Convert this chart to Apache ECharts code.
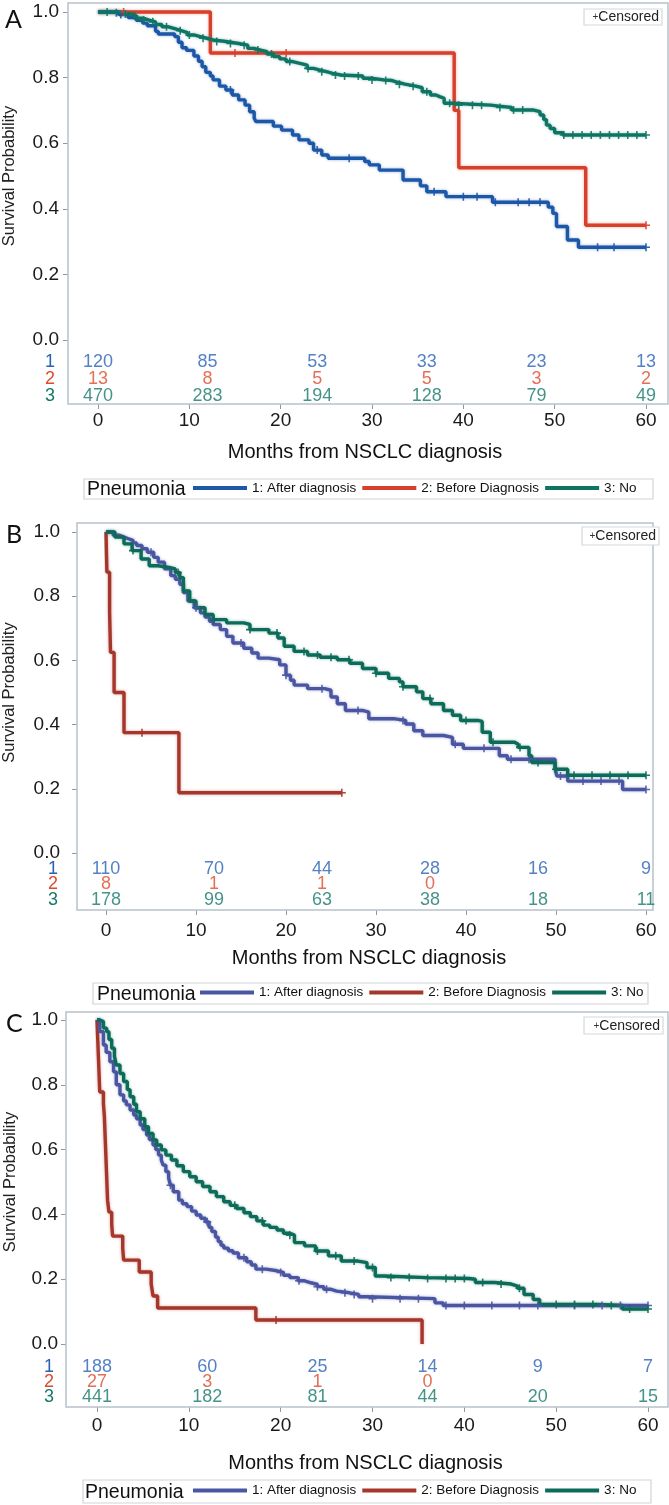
<!DOCTYPE html>
<html><head><meta charset="utf-8">
<script src="https://cdn.jsdelivr.net/npm/echarts@6/dist/echarts.min.js"></script>
<style>html,body{margin:0;padding:0;background:#fff}#c{width:669px;height:1505px}</style>
</head><body><div id="c"></div><script>
// ---------- DATA ----------
const xTicks = [0, 10, 20, 30, 40, 50, 60];
const yTicks = [0, 0.2, 0.4, 0.6, 0.8, 1.0];
const riskTimes = [0, 12, 24, 36, 48, 60];
const groupNames = ['1: After diagnosis', '2: Before Diagnosis', '3: No'];
const riskRowLabels = ['1', '2', '3'];
const panelLetters = ['A', 'B', 'C'];

// Panel A – [month, survival]
const A_after = [[0,1],[2.3,0.992],[3.3,0.983],[4.2,0.975],[4.9,0.966],[5.4,0.958],[6.3,0.941],[6.6,0.933],[8.4,0.925],[8.8,0.908],[9.2,0.891],[9.7,0.883],[10.5,0.866],[11.0,0.85],[11.4,0.833],[11.8,0.816],[12.3,0.805],[12.6,0.793],[13.3,0.774],[14.0,0.762],[14.7,0.747],[15.4,0.732],[16.1,0.716],[16.6,0.696],[17.1,0.676],[17.3,0.666],[19.2,0.652],[20.1,0.640],[21.3,0.625],[22.0,0.61],[23.1,0.60],[23.6,0.579],[24.5,0.564],[25.2,0.554],[29.2,0.544],[29.7,0.534],[30.8,0.518],[33.4,0.488],[35.3,0.47],[36.0,0.452],[38.1,0.437],[43.2,0.42],[49.3,0.405],[49.8,0.386],[50.2,0.346],[51.4,0.305],[52.6,0.283],[60,0.283]];
const A_before = [[0,1],[12.3,0.875],[39.0,0.70],[39.5,0.525],[53.4,0.35],[60,0.35]];
const A_no = [[0,1],[1.4,0.998],[2.8,0.994],[3.5,0.988],[4.2,0.981],[5.0,0.975],[5.6,0.970],[6.3,0.962],[7.0,0.955],[7.7,0.949],[8.4,0.943],[9.1,0.937],[9.8,0.930],[10.5,0.925],[11.2,0.920],[11.9,0.915],[12.6,0.910],[14.0,0.904],[15.4,0.899],[16.4,0.889],[17.1,0.884],[17.8,0.879],[18.5,0.872],[19.2,0.864],[19.9,0.857],[20.6,0.849],[21.3,0.844],[22.0,0.838],[22.9,0.828],[23.6,0.823],[24.3,0.818],[25.0,0.813],[25.7,0.808],[26.6,0.805],[29.0,0.798],[29.9,0.793],[31.3,0.791],[32.2,0.785],[32.9,0.780],[33.6,0.774],[34.8,0.769],[35.5,0.757],[36.4,0.747],[37.0,0.742],[37.4,0.737],[37.9,0.722],[38.8,0.716],[43.0,0.713],[43.9,0.709],[45.3,0.701],[47.7,0.696],[48.4,0.686],[48.8,0.672],[49.1,0.655],[49.5,0.645],[50.0,0.632],[50.9,0.625],[60,0.625]];
const A_after_cens = [2.5, 14.5, 24, 27.5, 36.8, 40, 41.5, 43.5, 46, 47.2, 48.4, 54.7, 56.5, 60];
const A_before_cens = [2.8, 15.0, 20.6, 60];
const A_no_cens = [1, 2, 3, 4, 5, 6, 7.5, 9, 10, 11.5, 13, 14.5, 16, 17.5, 19, 21, 23, 24.5, 26, 27, 28.5, 30, 31.5, 33, 34.5, 36, 38.5, 39.5, 41, 42, 44, 45.5, 46.5, 51, 52, 53, 54, 55, 56, 57, 58, 59, 60];
const A_risk_after = [120, 85, 53, 33, 23, 13];
const A_risk_before = [13, 8, 5, 5, 3, 2];
const A_risk_no = [470, 283, 194, 128, 79, 49];

// Panel B
const B_after = [[0,1],[0.8,0.99],[1.5,0.984],[2.0,0.979],[2.5,0.974],[3.0,0.966],[3.4,0.958],[4.0,0.948],[4.6,0.937],[5.3,0.921],[5.8,0.906],[6.5,0.885],[7.2,0.864],[7.7,0.853],[8.2,0.837],[8.6,0.811],[9.1,0.785],[9.8,0.764],[10.5,0.748],[11.0,0.735],[11.5,0.722],[11.9,0.712],[12.7,0.696],[13.4,0.675],[14.1,0.654],[15.3,0.638],[16.2,0.623],[16.9,0.607],[18.1,0.602],[19.3,0.586],[20.0,0.554],[20.5,0.538],[20.9,0.523],[22.4,0.512],[24.3,0.507],[25.0,0.486],[25.7,0.465],[26.6,0.444],[28.5,0.439],[29.2,0.418],[32.1,0.413],[33.3,0.402],[34.2,0.381],[35.2,0.366],[37.5,0.360],[38.5,0.339],[39.7,0.326],[43.7,0.303],[44.6,0.292],[49.9,0.261],[50.1,0.24],[51.3,0.224],[57.4,0.198],[60,0.198]];
const B_before = [[0,1],[0.1,0.875],[0.4,0.75],[0.5,0.625],[0.9,0.5],[2.0,0.375],[8.1,0.1875],[26.2,0.1875]];
const B_no = [[0,1],[1.0,0.984],[2.0,0.963],[2.9,0.942],[3.9,0.916],[4.8,0.895],[5.8,0.89],[7.0,0.885],[7.7,0.874],[8.2,0.858],[8.6,0.816],[9.3,0.785],[10.0,0.764],[11.0,0.743],[11.9,0.727],[13.4,0.717],[15.3,0.712],[16.0,0.696],[18.1,0.685],[19.1,0.67],[19.8,0.644],[20.9,0.628],[22.4,0.617],[23.8,0.61],[25.7,0.602],[27.1,0.591],[28.5,0.575],[30.0,0.56],[31.4,0.544],[32.6,0.533],[33.0,0.518],[34.5,0.502],[35.2,0.481],[36.1,0.465],[37.5,0.444],[38.5,0.429],[39.4,0.413],[41.3,0.41],[41.8,0.376],[42.7,0.345],[45.4,0.339],[45.8,0.329],[47.0,0.303],[47.3,0.282],[49.9,0.261],[51.3,0.242],[60,0.242]];
const B_after_cens = [5, 10, 15, 20, 24, 28, 33, 38.8, 42, 45, 47, 50.5, 53, 55, 57, 60];
const B_before_cens = [4.0, 26.2];
const B_no_cens = [3, 8, 12, 16, 19, 22, 23.5, 25, 27, 30, 33, 36, 40, 43, 46, 48, 50, 52, 54, 56, 58, 60];
const B_risk_after = [110, 70, 44, 28, 16, 9];
const B_risk_before = [8, 1, 1, 0, null, null];
const B_risk_no = [178, 99, 63, 38, 18, 11];

// Panel C
const C_after = [[0,1],[0.3,0.964],[0.7,0.923],[1.0,0.9],[1.4,0.871],[1.8,0.84],[2.1,0.80],[2.5,0.769],[2.9,0.75],[3.2,0.738],[3.6,0.722],[4.0,0.707],[4.3,0.695],[4.7,0.676],[5.0,0.662],[5.4,0.645],[5.7,0.631],[6.1,0.614],[6.4,0.6],[6.7,0.583],[7.0,0.568],[7.2,0.552],[7.5,0.532],[7.8,0.512],[8.0,0.49],[8.3,0.47],[8.9,0.444],[9.3,0.433],[9.8,0.424],[10.3,0.41],[10.8,0.398],[11.3,0.388],[11.8,0.377],[12.2,0.36],[12.5,0.347],[12.9,0.33],[13.2,0.316],[13.5,0.305],[13.8,0.296],[14.3,0.288],[14.8,0.281],[15.4,0.266],[16.3,0.254],[16.8,0.244],[17.3,0.231],[18.4,0.226],[19.6,0.221],[20.3,0.212],[21.0,0.205],[21.9,0.195],[22.6,0.189],[23.3,0.184],[24.0,0.177],[24.7,0.169],[25.4,0.163],[26.1,0.158],[27.5,0.153],[28.5,0.146],[29.4,0.14],[36.8,0.127],[37.7,0.119],[60,0.119]];
const C_before = [[0,1],[0.05,0.963],[0.1,0.926],[0.15,0.889],[0.2,0.852],[0.25,0.815],[0.3,0.778],[0.7,0.741],[0.8,0.704],[0.85,0.667],[0.9,0.63],[0.95,0.593],[1.0,0.556],[1.05,0.519],[1.1,0.481],[1.15,0.444],[1.3,0.407],[1.6,0.370],[1.7,0.333],[2.8,0.296],[2.9,0.259],[4.6,0.222],[5.9,0.185],[6.1,0.148],[6.6,0.111],[17.3,0.074],[35.4,0.0]];
const C_no = [[0,1],[0.3,0.995],[0.7,0.975],[1.05,0.964],[1.3,0.94],[1.6,0.913],[1.9,0.888],[2.1,0.861],[2.5,0.835],[2.9,0.81],[3.3,0.785],[3.6,0.763],[4.0,0.74],[4.3,0.717],[4.7,0.695],[5.2,0.671],[5.6,0.65],[6.1,0.63],[6.5,0.614],[7.0,0.599],[7.5,0.583],[8.1,0.568],[8.7,0.55],[9.4,0.532],[10.1,0.516],[10.8,0.501],[11.5,0.486],[12.3,0.47],[13.0,0.455],[13.8,0.439],[14.5,0.428],[15.2,0.418],[16.0,0.405],[16.7,0.393],[17.4,0.38],[18.1,0.367],[18.8,0.36],[19.6,0.352],[20.3,0.342],[21.0,0.336],[21.5,0.313],[22.6,0.303],[23.8,0.287],[25.2,0.272],[26.6,0.256],[28.4,0.251],[29.4,0.236],[30.3,0.21],[31.2,0.205],[35.9,0.202],[40.5,0.2],[41.2,0.19],[43.3,0.185],[45.1,0.179],[45.8,0.172],[46.5,0.153],[47.5,0.1375],[48.2,0.122],[54.4,0.119],[57.2,0.108],[60,0.108]];
const C_after_cens = [8, 12, 16, 18, 20, 22, 24, 25, 27, 28, 30, 33, 35, 38, 40, 43, 46, 48, 52, 55, 57, 60];
const C_before_cens = [19.5];
const C_no_cens = [15, 18, 21, 24, 26, 28, 30, 32, 34, 36, 38, 39, 40, 42, 44, 46, 50, 52, 54, 56, 58, 60];
const C_risk_after = [188, 60, 25, 14, 9, 7];
const C_risk_before = [27, 3, 1, 0, null, null];
const C_risk_no = [441, 182, 81, 44, 20, 15];

// ---------- STYLE / LAYOUT ----------
const FONT = '"Liberation Sans", Arial, sans-serif';
const colorsA = ['#1d57a7', '#d7402b', '#0e7565'];
const colorsBC = ['#4b56a3', '#a5362b', '#0c6b59'];
const riskColors = ['#2962b5', '#dd4a2c', '#15786a'];
const frameColor = '#b9c1cb';

const panels = [
  { curves: [A_after, A_before, A_no], cens: [A_after_cens, A_before_cens, A_no_cens], risk: [A_risk_after, A_risk_before, A_risk_no], colors: colorsA,
    frame: [68, 3, 668, 404], x0: 98, x60: 646, y1: 12, y0: 340, riskTop: 353.5, riskH: 51, xMargin: 7, xNameGap: 38.5, yNameGap: 50, yMargin: 9, rMargin: 13,
    letter: [5, 20], cbox: [584, 9, 662, 25], lbox: [84, 479, 653, 499], legLeft: 193, pneuX: 87 },
  { curves: [B_after, B_before, B_no], cens: [B_after_cens, B_before_cens, B_no_cens], risk: [B_risk_after, B_risk_before, B_risk_no], colors: colorsBC,
    frame: [77, 523, 653, 910], x0: 106, x60: 646, y1: 532, y0: 853, riskTop: 861, riskH: 47, xMargin: 11, xNameGap: 38.5, yNameGap: 59, yMargin: 17, rMargin: 19,
    letter: [6, 535], cbox: [582, 527, 659, 545], lbox: [93, 983, 648, 1004], legLeft: 200, pneuX: 97 },
  { curves: [C_after, C_before, C_no], cens: [C_after_cens, C_before_cens, C_no_cens], risk: [C_risk_after, C_risk_before, C_risk_no], colors: colorsBC,
    frame: [66, 1012, 668, 1407], x0: 97, x60: 648, y1: 1020, y0: 1344, riskTop: 1359.5, riskH: 45, xMargin: 9, xNameGap: 46.5, yNameGap: 47, yMargin: 8, rMargin: 12,
    letter: [6, 1024], cbox: [584, 1017, 663, 1034], lbox: [83, 1480, 651, 1503], legLeft: 193, pneuX: 85 }
];

function kmAt(curve, t) {
  let s = curve[0][1];
  for (const p of curve) { if (p[0] <= t) s = p[1]; else break; }
  return s;
}
const plusPath = 'path://M4,0h2v4h4v2h-4v4h-2v-4h-4v-2h4z';

const grid = [], xAxis = [], yAxis = [], series = [], legend = [], graphic = [];
panels.forEach((P, pi) => {
  const gMain = pi * 2, gRisk = pi * 2 + 1;
  grid.push({ left: P.x0, width: P.x60 - P.x0, top: P.y1, height: P.y0 - P.y1, containLabel: false, outerBoundsMode: 'none' });
  grid.push({ left: P.x0, width: P.x60 - P.x0, top: P.riskTop, height: P.riskH, containLabel: false, outerBoundsMode: 'none' });
  xAxis.push({
    gridIndex: gMain, type: 'value', min: xTicks[0], max: xTicks[xTicks.length - 1], interval: xTicks[1] - xTicks[0],
    offset: P.frame[3] - P.y0,
    axisLine: { show: false, onZero: false }, splitLine: { show: false },
    axisTick: { show: true, length: 5, lineStyle: { color: '#8e98a4', width: 1 } },
    axisLabel: { fontSize: 19, color: '#1a1a1a', fontFamily: FONT, margin: P.xMargin },
    name: 'Months from NSCLC diagnosis', nameLocation: 'middle', nameGap: P.xNameGap,
    nameTextStyle: { fontSize: 20, color: '#111', fontFamily: FONT, padding: [0, 14, 0, 0] }
  });
  xAxis.push({ gridIndex: gRisk, type: 'value', min: xTicks[0], max: xTicks[xTicks.length - 1], show: false });
  yAxis.push({
    gridIndex: gMain, type: 'value', min: yTicks[0], max: yTicks[yTicks.length - 1], interval: yTicks[1] - yTicks[0],
    offset: P.x0 - P.frame[0],
    axisLine: { show: false, onZero: false }, splitLine: { show: false },
    axisTick: { show: true, length: 5, lineStyle: { color: '#8e98a4', width: 1 } },
    axisLabel: { fontSize: 19, color: '#1a1a1a', fontFamily: FONT, margin: P.yMargin, formatter: v => v.toFixed(1) },
    name: 'Survival Probability', nameLocation: 'middle', nameGap: P.yNameGap, nameRotate: 90,
    nameTextStyle: { fontSize: 16.5, color: '#222', fontFamily: FONT }
  });
  yAxis.push({
    gridIndex: gRisk, type: 'category', data: riskRowLabels, inverse: true,
    offset: P.x0 - P.frame[0],
    axisLine: { show: false, onZero: false }, axisTick: { show: false }, splitLine: { show: false },
    axisLabel: { interval: 0, fontSize: 18, fontFamily: FONT, margin: P.rMargin, color: (v, i) => riskColors[riskRowLabels.indexOf(v)] }
  });

  P.curves.forEach((curve, gi) => {
    const col = P.colors[gi];
    series.push({
      name: groupNames[gi], type: 'line', step: 'end', xAxisIndex: gMain, yAxisIndex: gMain,
      data: curve, showSymbol: false, symbol: 'none', clip: false, silent: true,
      lineStyle: { color: col, width: 3.4, shadowColor: echarts.color.modifyAlpha(col, 0.45), shadowBlur: 3 },
      itemStyle: { color: col }, z: 3 + (gi === 1 ? 0 : 1)
    });
    series.push({
      name: 'cens' + pi + gi, type: 'scatter', xAxisIndex: gMain, yAxisIndex: gMain,
      data: P.cens[gi].map(t => [t, kmAt(curve, t)]), symbol: plusPath, symbolSize: 8, silent: true,
      itemStyle: { color: col, opacity: 0.9 }, z: 5
    });
    series.push({
      name: 'risk' + pi + gi, type: 'scatter', xAxisIndex: gRisk, yAxisIndex: gRisk, symbolSize: 0, silent: true,
      data: riskTimes.map((t, i) => P.risk[gi][i] == null ? null : [t, gi, P.risk[gi][i]]).filter(d => d),
      label: { show: true, position: 'inside', formatter: p => String(p.value[2]), fontSize: 18, fontFamily: FONT, color: riskColors[gi] }
    });
  });

  const lcy = (P.lbox[1] + P.lbox[3]) / 2;
  legend.push({
    left: P.legLeft, top: lcy - 8, padding: 0, itemWidth: 54, itemHeight: 4, itemGap: 6, icon: 'rect', selectedMode: false,
    textStyle: { fontSize: 13.5, color: '#111', fontFamily: FONT },
    data: groupNames.map((n, i) => ({ name: n, itemStyle: { color: P.colors[i] } }))
  });

  const f = P.frame;
  graphic.push({ type: 'rect', shape: { x: f[0], y: f[1], width: f[2] - f[0], height: f[3] - f[1] }, style: { fill: 'none', stroke: frameColor, lineWidth: 1.5 }, z: 1 });
  const cb = P.cbox;
  graphic.push({ type: 'rect', shape: { x: cb[0], y: cb[1], width: cb[2] - cb[0], height: cb[3] - cb[1] }, style: { fill: '#fff', stroke: '#d4d8de', lineWidth: 1.2 }, z: 10 });
  graphic.push({ type: 'text', style: { x: cb[2] - 3, y: (cb[1] + cb[3]) / 2 + 0.5, text: '{p|+}{t|Censored}', align: 'right', verticalAlign: 'middle',
    rich: { p: { fontSize: 10, fill: '#333', fontFamily: FONT }, t: { fontSize: 14, fill: '#222', fontFamily: FONT } } }, z: 11 });
  const lb = P.lbox;
  graphic.push({ type: 'rect', shape: { x: lb[0], y: lb[1], width: lb[2] - lb[0], height: lb[3] - lb[1] }, style: { fill: 'none', stroke: '#d0d4da', lineWidth: 1.2 }, z: 1 });
  graphic.push({ type: 'text', style: { x: P.pneuX, y: lcy + 1, text: 'Pneumonia', align: 'left', verticalAlign: 'middle', fontSize: 19.5, fontFamily: FONT, fill: '#111' }, z: 11 });
  graphic.push({ type: 'text', style: { x: P.letter[0], y: P.letter[1], text: panelLetters[pi], align: 'left', verticalAlign: 'middle', fontSize: 25, fontFamily: 'Lato, "Noto Sans", sans-serif', fill: '#111' }, z: 11 });
});

const chart = echarts.init(document.getElementById('c'), null, { renderer: 'canvas' });
chart.setOption({ animation: false, backgroundColor: '#fff', grid, xAxis, yAxis, series, legend, graphic });
</script></body></html>
